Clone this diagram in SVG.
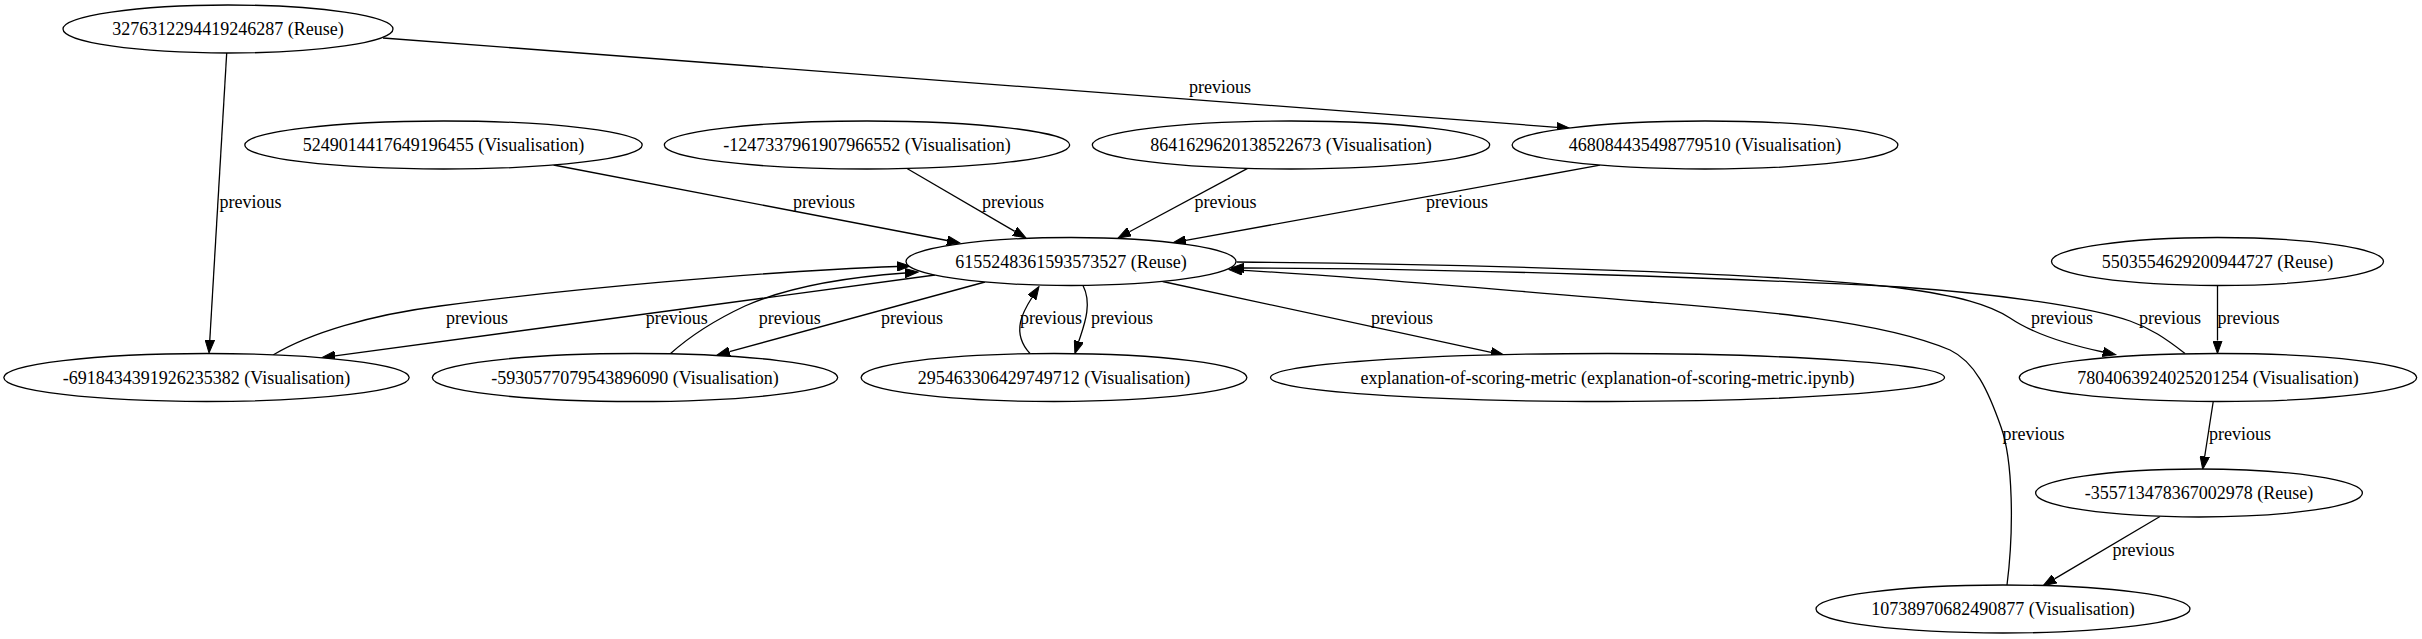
<svg xmlns="http://www.w3.org/2000/svg" width="2422" height="639" viewBox="0 0 2422 639">
<style>
.node ellipse{fill:#ffffff;stroke:#000000;stroke-width:1.3}
text{font-family:"Liberation Serif","Times New Roman",serif;font-size:18px;fill:#000000;text-anchor:middle}
.edge{fill:none;stroke:#000000;stroke-width:1.3}
.arr{marker-end:url(#ah)}
</style>
<defs>
<marker id="ah" markerUnits="userSpaceOnUse" viewBox="0 0 14 10" markerWidth="14" markerHeight="10" refX="0" refY="5" orient="auto">
<path d="M0,0.3 L13,5 L0,9.7 z" fill="#000000" stroke="#000000" stroke-width="1"/>
</marker>
</defs>
<rect x="0" y="0" width="2422" height="639" fill="#ffffff"/>
<g id="connectors">
<path class="edge arr" d="M226.7,53 L209.8,340"/>
<path class="edge arr" d="M383,38 L1557,127.3"/>
<path class="edge arr" d="M553.6,165 L947.2,240.5"/>
<path class="edge arr" d="M907,168.5 L1014.8,231.4"/>
<path class="edge arr" d="M1247.6,168.4 L1129.5,231.8"/>
<path class="edge arr" d="M1600,165.2 L1185.8,240.4"/>
<path class="edge arr" d="M273,355 C310,333 370,315 440,306 C560,290 765,271 897,266.5"/>
<path class="edge arr" d="M935,275 L335,355.8"/>
<path class="edge arr" d="M670,354 C690,336 715,320 745,306 C790,286 850,277 905,273"/>
<path class="edge arr" d="M985,282 L729.5,351.6"/>
<path class="edge arr" d="M1030,353.5 C1010,332 1024,310 1032,297.5"/>
<path class="edge arr" d="M1083,285.5 C1093,305 1083,328 1078.8,341.3"/>
<path class="edge arr" d="M1162.6,281.5 L1491.1,352.3"/>
<path class="edge arr" d="M1236.5,262 C1500,264 1800,275 1900,288 C1960,296 1990,305 2010,318 C2035,335 2070,345 2103,352"/>
<path class="edge arr" d="M2185,353.5 C2165,338 2150,328 2130,321 C2090,307 2000,294 1900,287 C1750,279 1450,268 1244,268"/>
<path class="edge arr" d="M2007,585 C2014,530 2013,460 2001,427 C1988,390 1975,362 1950,350 C1880,320 1750,310 1650,302 C1500,290 1350,276 1242,270.3"/>
<path class="edge arr" d="M2217.5,285.5 L2217.5,340.5"/>
<path class="edge arr" d="M2213.3,401 L2204.7,456.5"/>
<path class="edge arr" d="M2160,516.5 L2054.5,578.9"/>
<text x="250.5" y="208">previous</text>
<text x="1220" y="92.5">previous</text>
<text x="824" y="208">previous</text>
<text x="1013" y="208">previous</text>
<text x="1225.5" y="208">previous</text>
<text x="1457" y="208">previous</text>
<text x="477" y="323.5">previous</text>
<text x="676.7" y="323.5">previous</text>
<text x="789.7" y="323.5">previous</text>
<text x="912" y="323.5">previous</text>
<text x="1051" y="323.5">previous</text>
<text x="1122" y="323.5">previous</text>
<text x="1402" y="323.5">previous</text>
<text x="2062" y="323.5">previous</text>
<text x="2170" y="323.5">previous</text>
<text x="2248.5" y="323.5">previous</text>
<text x="2240" y="439.5">previous</text>
<text x="2033.5" y="439.5">previous</text>
<text x="2143.5" y="555.5">previous</text>
</g>
<g id="n3276312294419246287" class="node"><ellipse cx="228" cy="29" rx="165" ry="24"/><text x="228" y="35">3276312294419246287 (Reuse)</text></g>
<g id="n5249014417649196455" class="node"><ellipse cx="443.5" cy="145" rx="198.7" ry="24"/><text x="443.5" y="151">5249014417649196455 (Visualisation)</text></g>
<g id="n-1247337961907966552" class="node"><ellipse cx="867" cy="145" rx="202.7" ry="24"/><text x="867" y="151">-1247337961907966552 (Visualisation)</text></g>
<g id="n8641629620138522673" class="node"><ellipse cx="1291" cy="145" rx="198.7" ry="24"/><text x="1291" y="151">8641629620138522673 (Visualisation)</text></g>
<g id="n468084435498779510" class="node"><ellipse cx="1705" cy="145" rx="192.9" ry="24"/><text x="1705" y="151">468084435498779510 (Visualisation)</text></g>
<g id="n6155248361593573527" class="node"><ellipse cx="1071" cy="261.5" rx="165" ry="24"/><text x="1071" y="267.5">6155248361593573527 (Reuse)</text></g>
<g id="n5503554629200944727" class="node"><ellipse cx="2217.5" cy="261.5" rx="166" ry="24"/><text x="2217.5" y="267.5">5503554629200944727 (Reuse)</text></g>
<g id="n-6918434391926235382" class="node"><ellipse cx="206.5" cy="377.5" rx="202.7" ry="24"/><text x="206.5" y="383.5">-6918434391926235382 (Visualisation)</text></g>
<g id="n-5930577079543896090" class="node"><ellipse cx="635" cy="377.5" rx="202.7" ry="24"/><text x="635" y="383.5">-5930577079543896090 (Visualisation)</text></g>
<g id="n295463306429749712" class="node"><ellipse cx="1054" cy="377.5" rx="192.9" ry="24"/><text x="1054" y="383.5">295463306429749712 (Visualisation)</text></g>
<g id="explanation-of-scoring-metric" class="node"><ellipse cx="1607.5" cy="377.5" rx="337" ry="24"/><text x="1607.5" y="383.5">explanation-of-scoring-metric (explanation-of-scoring-metric.ipynb)</text></g>
<g id="n7804063924025201254" class="node"><ellipse cx="2218" cy="377.5" rx="198.7" ry="24"/><text x="2218" y="383.5">7804063924025201254 (Visualisation)</text></g>
<g id="n-355713478367002978" class="node"><ellipse cx="2199" cy="493" rx="163.4" ry="24"/><text x="2199" y="499">-355713478367002978 (Reuse)</text></g>
<g id="n10738970682490877" class="node"><ellipse cx="2003" cy="609" rx="187" ry="24"/><text x="2003" y="615">10738970682490877 (Visualisation)</text></g>
</svg>
